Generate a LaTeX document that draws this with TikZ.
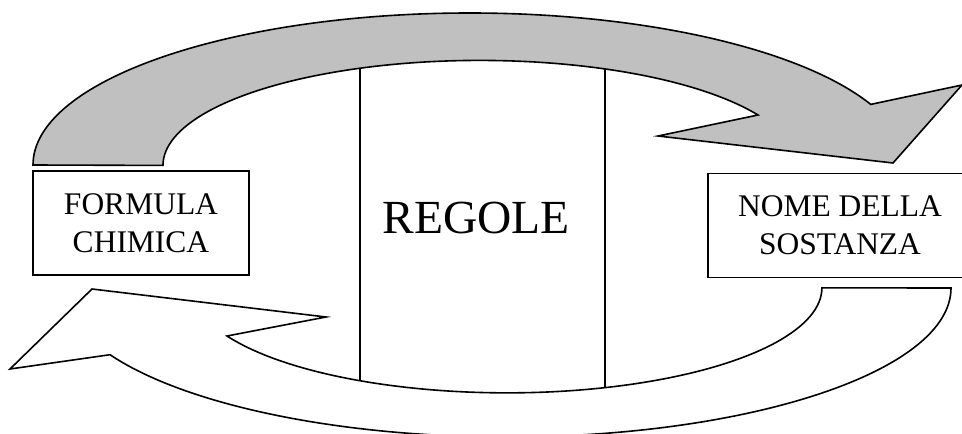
\documentclass[tikz,border=0pt]{standalone}
\usepackage{fontspec}
\setmainfont{Liberation Serif}
\usetikzlibrary{calc}
\definecolor{arrow-gray}{HTML}{C0C0C0}

\begin{document}
\begin{tikzpicture}[
    x=1pt, y=-1pt,
    font=\fontsize{31.5}{38}\selectfont
  ]

  % Styles for the two text boxes and the curved arrows
  \tikzset{
    namebox/.style={draw=black, line width=1.6pt, minimum width=216pt, minimum height=104pt, inner sep=0pt, align=center},
    bigarrow/.style={draw=black, line width=1.6pt},
    divider/.style={draw=black, line width=1.3pt}
  }

  \useasboundingbox (0,0) rectangle (962,434);
  \clip (0,0) rectangle (962,434);

  % Upper arrow (left to right)
  \draw[bigarrow, fill=arrow-gray] (33,165)
    arc[start angle=-180, end angle=-23.5, x radius=437, y radius=152]
    -- (962,85) -- (893,163) -- (658,136) -- (758,115)
    arc[start angle=-28.7, end angle=-180, x radius=317, y radius=105]
    -- cycle;

  % Lower arrow (right to left)
  \draw[bigarrow, fill=white] (951,288)
    arc[start angle=0, end angle=153.4, x radius=444, y radius=149]
    -- (10,369) -- (92,289) -- (326,317) -- (227,336)
    arc[start angle=152.7, end angle=0, x radius=315, y radius=105]
    -- cycle;

  % Middle column
  \coordinate (lt) at (360,68);
  \coordinate (lb) at (360,381);
  \coordinate (rt) at (605,68.5);
  \coordinate (rb) at (605,388);
  \draw[divider] (lt) -- (lb);
  \draw[divider] (rt) -- (rb);
  \node (regole) [anchor=base, font=\fontsize{47.5}{57}\selectfont] at (476,233) {REGOLE};

  % Text boxes
  \node (formula) [namebox] at (141,223) {FORMULA\\CHIMICA};
  \node (nome) [namebox, minimum width=264pt] at (840,225.5) {NOME DELLA\\SOSTANZA};

\end{tikzpicture}
\end{document}
